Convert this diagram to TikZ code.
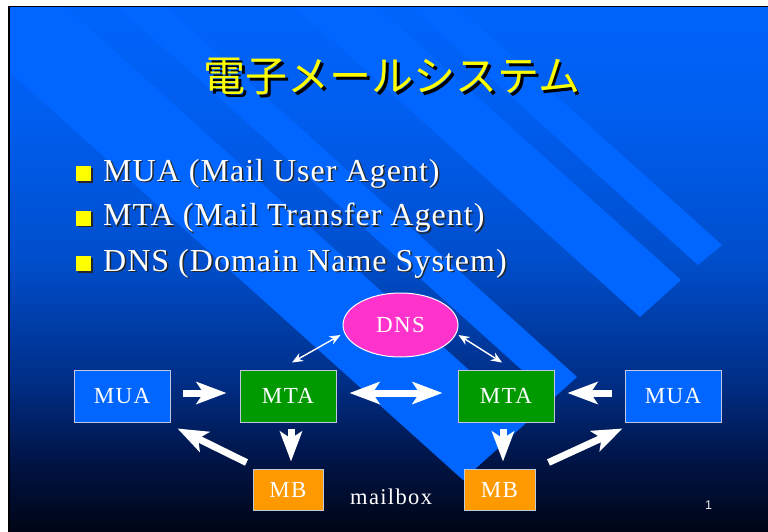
\documentclass[tikz,border=0pt]{standalone}
\usepackage{fontspec}
\setmainfont{Liberation Serif}
\newfontfamily\jpfont{Noto Sans CJK JP}
\newfontfamily\listfont[LetterSpace=3.2]{Liberation Serif}
\newfontfamily\labelfont[LetterSpace=6]{Liberation Serif}
\newfontfamily\numfont{Liberation Sans}
\usetikzlibrary{arrows.meta,shapes.geometric,calc}

\definecolor{bandblue}{RGB}{0,102,255}
\definecolor{boxblue}{RGB}{0,102,255}
\definecolor{boxgreen}{RGB}{0,153,0}
\definecolor{boxorange}{RGB}{255,153,0}
\definecolor{dnspink}{RGB}{255,51,204}
\definecolor{titleyellow}{RGB}{255,255,0}
\definecolor{edgegray}{RGB}{190,200,220}
\definecolor{bgA}{RGB}{0,100,252}
\definecolor{bgB}{RGB}{0,93,238}
\definecolor{bgC}{RGB}{0,78,204}
\definecolor{bgD}{RGB}{0,46,135}
\definecolor{bgE}{RGB}{0,20,70}
\definecolor{bgF}{RGB}{0,5,22}

\begin{document}
\begin{tikzpicture}[x=1pt,y=-1pt,
  box/.style={rectangle, draw=edgegray, line width=1pt, inner sep=0pt,
    minimum width=96pt, minimum height=52pt, text=white,
    font=\labelfont\fontsize{23}{26}\selectfont},
  mbbox/.style={box, fill=boxorange, minimum width=70pt, minimum height=41pt},
  plain/.style={inner sep=0pt},
  bigarrow/.style={draw=white, line width=7pt,
    -{Stealth[length=30pt,width=22pt,inset=7pt]}},
  bigdouble/.style={draw=white, line width=7pt,
    {Stealth[length=30pt,width=22pt,inset=7pt]}-{Stealth[length=30pt,width=22pt,inset=7pt]}},
  thindouble/.style={draw=white, line width=1.4pt,
    {Stealth[length=11pt,width=9pt,inset=3.5pt]}-{Stealth[length=11pt,width=9pt,inset=3.5pt]}},
  listtext/.style={plain, anchor=base west, font=\listfont\fontsize{32}{38}\selectfont},
]
\useasboundingbox (0,0) rectangle (768,532);
\fill[white] (0,0) rectangle (768,532);
\fill[black] (8,6) rectangle (768,532);

% slide background: blue fading to black
\shade[top color=bgA, bottom color=bgB] (10,8) rectangle (768,121);
\shade[top color=bgB, bottom color=bgC] (10,120) rectangle (768,261);
\shade[top color=bgC, bottom color=bgD] (10,260) rectangle (768,381);
\shade[top color=bgD, bottom color=bgE] (10,380) rectangle (768,461);
\shade[top color=bgE, bottom color=bgF] (10,460) rectangle (768,532);

% diagonal decorative bands
\begin{scope}
  \clip (10,8) rectangle (768,532);
  \fill[bandblue] (-337,-240) -- (463,480) -- (577,377) -- (-223,-343)
    -- (-267,-340) -- (533,380) -- (485.6,385) -- (-320,-340) -- cycle;
  \fill[bandblue] (640,317) -- (681,280) -- (-119,-440) -- (-160,-403) -- cycle;
  \fill[bandblue] (698,265) -- (722,245) -- (-78,-475) -- (-102,-455) -- cycle;
\end{scope}

% title
\node[plain, anchor=base, font=\jpfont\fontsize{42}{48}\selectfont, text=black]
  (titleshadow) at (394.5,94.5) {電子メールシステム};
\node[plain, anchor=base, font=\jpfont\fontsize{42}{48}\selectfont, text=titleyellow]
  (title) at (392,92) {電子メールシステム};

% bullet list
\foreach \yy in {181,225.5,271} {
  \fill[black!85] (77.5,\yy-13.5) rectangle (92.5,\yy+1.5);
  \fill[titleyellow] (76,\yy-15) rectangle (91,\yy);
}
\node[listtext, text=black!85] (l1s) at (104.5,182.5) {MUA (Mail User Agent)};
\node[listtext, text=white] (l1) at (103,181) {MUA (Mail User Agent)};
\node[listtext, text=black!85] (l2s) at (104.5,227) {MTA (Mail Transfer Agent)};
\node[listtext, text=white] (l2) at (103,225.5) {MTA (Mail Transfer Agent)};
\node[listtext, text=black!85] (l3s) at (104.5,272.5) {DNS (Domain Name System)};
\node[listtext, text=white] (l3) at (103,271) {DNS (Domain Name System)};

% diagram nodes
\node[ellipse, draw=white, line width=1pt, fill=dnspink, inner sep=0pt,
  minimum width=115pt, minimum height=64pt, text=white,
  font=\labelfont\fontsize{23}{26}\selectfont] (dns) at (400.5,325) {DNS};
\node[box, fill=boxblue] (mua1) at (122,396) {MUA};
\node[box, fill=boxgreen] (mta1) at (288,396) {MTA};
\node[box, fill=boxgreen] (mta2) at (506,396) {MTA};
\node[box, fill=boxblue] (mua2) at (673,396) {MUA};
\node[mbbox] (mb1) at (288,489.5) {MB};
\node[mbbox, minimum width=71pt] (mb2) at (499.5,489.5) {MB};
\node[plain, anchor=base west, text=white,
  font=\labelfont\fontsize{22.5}{26}\selectfont] (mbnote) at (350,504) {mailbox};
\node[plain, text=white!85!gray, font=\numfont\fontsize{12.5}{14}\selectfont]
  (pagenum) at (708.5,505.5) {1};

% connectors
\draw[bigarrow] ($(mua1.east)+(12,-3)$) -- ($(mta1.west)+(-13,-3)$);
\draw[bigdouble] ($(mta1.east)+(13,-3)$) -- ($(mta2.west)+(-15,-3)$);
\draw[bigarrow] ($(mua2.west)+(-13,-3)$) -- ($(mta2.east)+(13,-3)$);
\draw[bigarrow] ($(mta1.south)+(3,6)$) -- ($(mb1.north)+(3,-7)$);
\draw[bigarrow] ($(mta2.south)+(-3,6)$) -- ($(mb2.north)+(3.5,-7)$);
\draw[bigarrow] ($(mb1.north west)+(-6,-6)$) -- ($(mua1.south east)+(7,6)$);
\draw[bigarrow] ($(mb2.north east)+(13,-6)$) -- ($(mua2.south west)+(-2,6)$);
\draw[thindouble] ($(dns.west)+(-2,10)$) -- ($(mta1.north)+(4,-7)$);
\draw[thindouble] ($(dns.east)+(0,10)$) -- ($(mta2.north)+(-4,-7)$);
\end{tikzpicture}
\end{document}
